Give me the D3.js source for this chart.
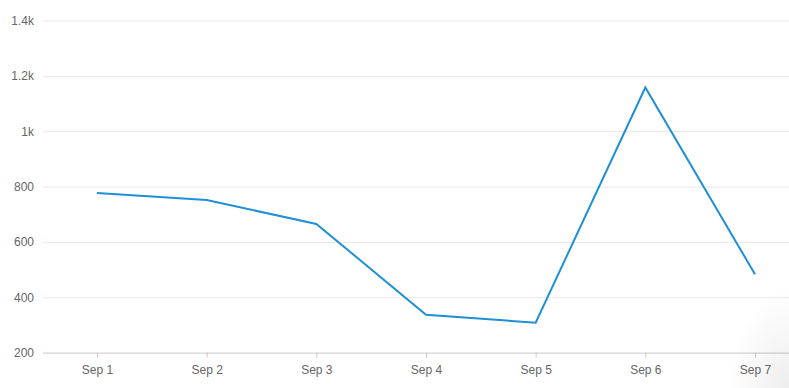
<!DOCTYPE html>
<html><head><meta charset="utf-8">
<script src="https://cdn.jsdelivr.net/npm/d3@7"></script>
<style>
html,body{margin:0;padding:0;background:#fff;}
svg{display:block;font-family:"Liberation Sans",Arial,sans-serif;}
</style></head>
<body>
<svg id="chart" width="789" height="388"></svg>
<script>
const categories = ["Sep 1","Sep 2","Sep 3","Sep 4","Sep 5","Sep 6","Sep 7"];
const values = [777, 751, 665, 337, 308, 1158, 483];
const yTicks = [200, 400, 600, 800, 1000, 1200, 1400];
const yTickLabels = ["200","400","600","800","1k","1.2k","1.4k"];

const svg = d3.select("#chart");
const W = 789, H = 388;

// faint corner shadow
const defs = svg.append("defs");
const rg = defs.append("radialGradient").attr("id","corner").attr("cx","1").attr("cy","1").attr("r","1");
rg.append("stop").attr("offset","0").attr("stop-color","#000").attr("stop-opacity",0.07);
rg.append("stop").attr("offset","1").attr("stop-color","#000").attr("stop-opacity",0);

const x = d3.scalePoint().domain(categories).range([97, 755]);
const y = d3.scaleLinear().domain([200, 1400]).range([352.6, 20.5]);

// gridlines
const grid = svg.append("g").attr("transform","translate(0,0)")
  .call(d3.axisLeft(y).tickValues(yTicks).tickSize(-(W-43)).tickFormat((d,i)=>yTickLabels[i]).tickPadding(9))
  .attr("transform","translate(43,0)");
grid.select(".domain").remove();
grid.selectAll(".tick line").attr("stroke","#e8e8e8").attr("stroke-width",1);
grid.selectAll(".tick").filter(d=>d===200).select("line").attr("stroke","#c8c8c8");
grid.selectAll(".tick text").attr("fill","#666").attr("font-size","12px").attr("font-family","'Liberation Sans',Arial,sans-serif");

// x axis
const xa = svg.append("g").attr("transform",`translate(0,${y(200)})`)
  .call(d3.axisBottom(x).tickSize(5).tickPadding(8));
xa.select(".domain").remove();
xa.selectAll(".tick line").attr("stroke","#c8c8c8");
xa.selectAll(".tick text").attr("fill","#666").attr("font-size","12px").attr("font-family","'Liberation Sans',Arial,sans-serif");

// line
const line = d3.line().x((d,i)=>x(categories[i])).y(d=>y(d));
svg.append("path").datum(values).attr("d",line)
  .attr("fill","none").attr("stroke","#1f8fd6").attr("stroke-width",2).attr("stroke-linejoin","miter");

svg.append("rect").attr("x",W-60).attr("y",H-100).attr("width",60).attr("height",100).attr("fill","url(#corner)");
</script>
</body></html>
